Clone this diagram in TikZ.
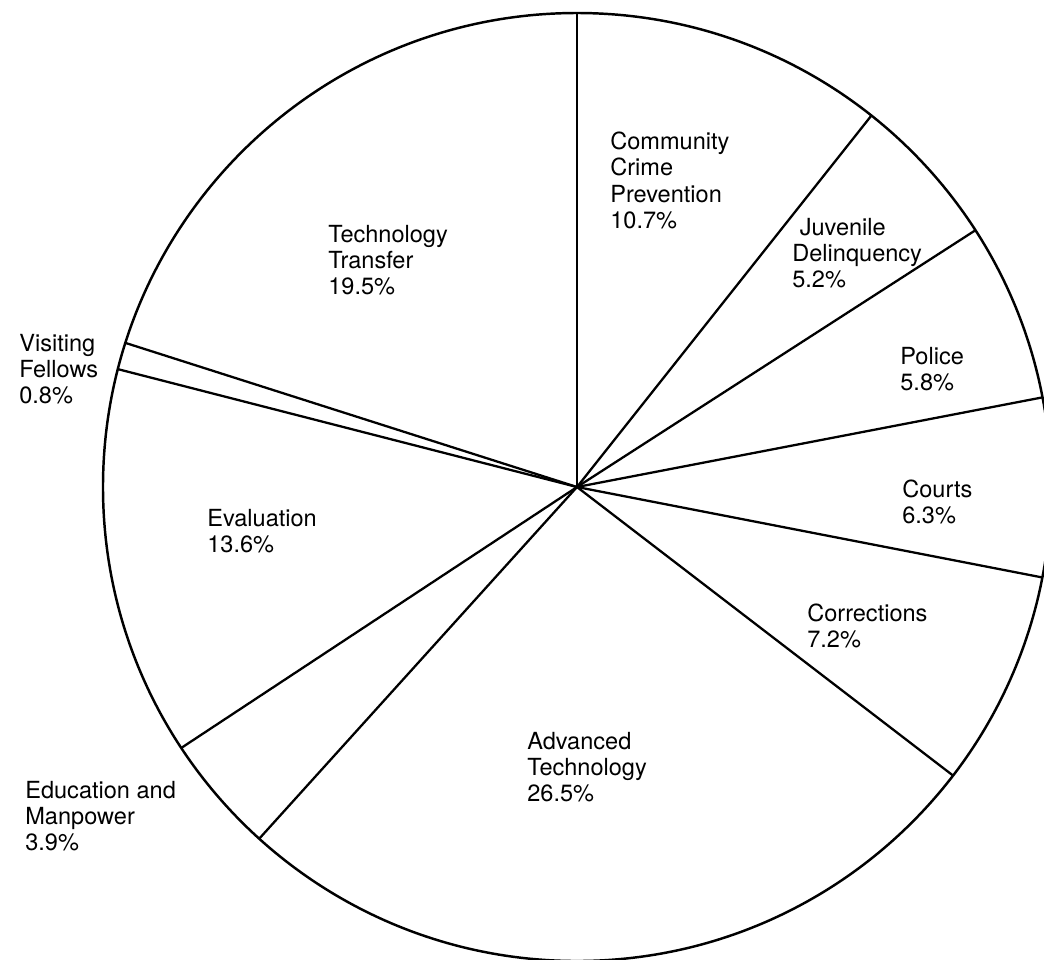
\documentclass[tikz,border=0pt]{standalone}
\usepackage{fontspec}
\setmainfont{TeX Gyre Heros}
\usetikzlibrary{positioning}

\tikzset{
  rim/.style={line width=1.4pt},
  ray/.style={line width=1.3pt},
  slicelabel/.style={anchor=north west, inner sep=0pt, align=left,
    font=\fontsize{13.4}{15}\selectfont}
}

\begin{document}
\begin{tikzpicture}
  \useasboundingbox (-11.54,-9.44) rectangle (9.34,9.74);
  \coordinate (c) at (0,0);
  \draw[rim] (c) circle (9.48);
  % slice boundaries
  \foreach \a/\n in {90/ccp, 51.6/jd, 32.8/pol, 10.9/crt, -11/cor,
                     -37.5/adv, -132.1/edu, -146.6/eval, 165.6/vf, 162.3/tt}{
    \coordinate (rim-\n) at (\a:9.48);
    \draw[ray] (c) -- (rim-\n);
  }
  % labels
  \node[slicelabel] (ccp)  at (0.66,7.11)   {Community\\Crime\\Prevention\\10.7\%};
  \node[slicelabel] (jd)   at (4.30,5.39)   {\hspace{0.15cm}Juvenile\\Delinquency\\5.2\%};
  \node[slicelabel] (pol)  at (6.46,2.81)   {Police\\5.8\%};
  \node[slicelabel] (crt)  at (6.50,0.15)   {Courts\\6.3\%};
  \node[slicelabel] (cor)  at (4.60,-2.33)  {Corrections\\7.2\%};
  \node[slicelabel] (adv)  at (-1.00,-4.89) {Advanced\\Technology\\26.5\%};
  \node[slicelabel] (edu)  at (-11.04,-5.87) {Education and\\Manpower\\3.9\%};
  \node[slicelabel] (eval) at (-7.40,-0.43) {Evaluation\\13.6\%};
  \node[slicelabel] (vf)   at (-11.16,3.07) {Visiting\\Fellows\\0.8\%};
  \node[slicelabel] (tt)   at (-4.98,5.25)  {Technology\\Transfer\\19.5\%};
\end{tikzpicture}
\end{document}
